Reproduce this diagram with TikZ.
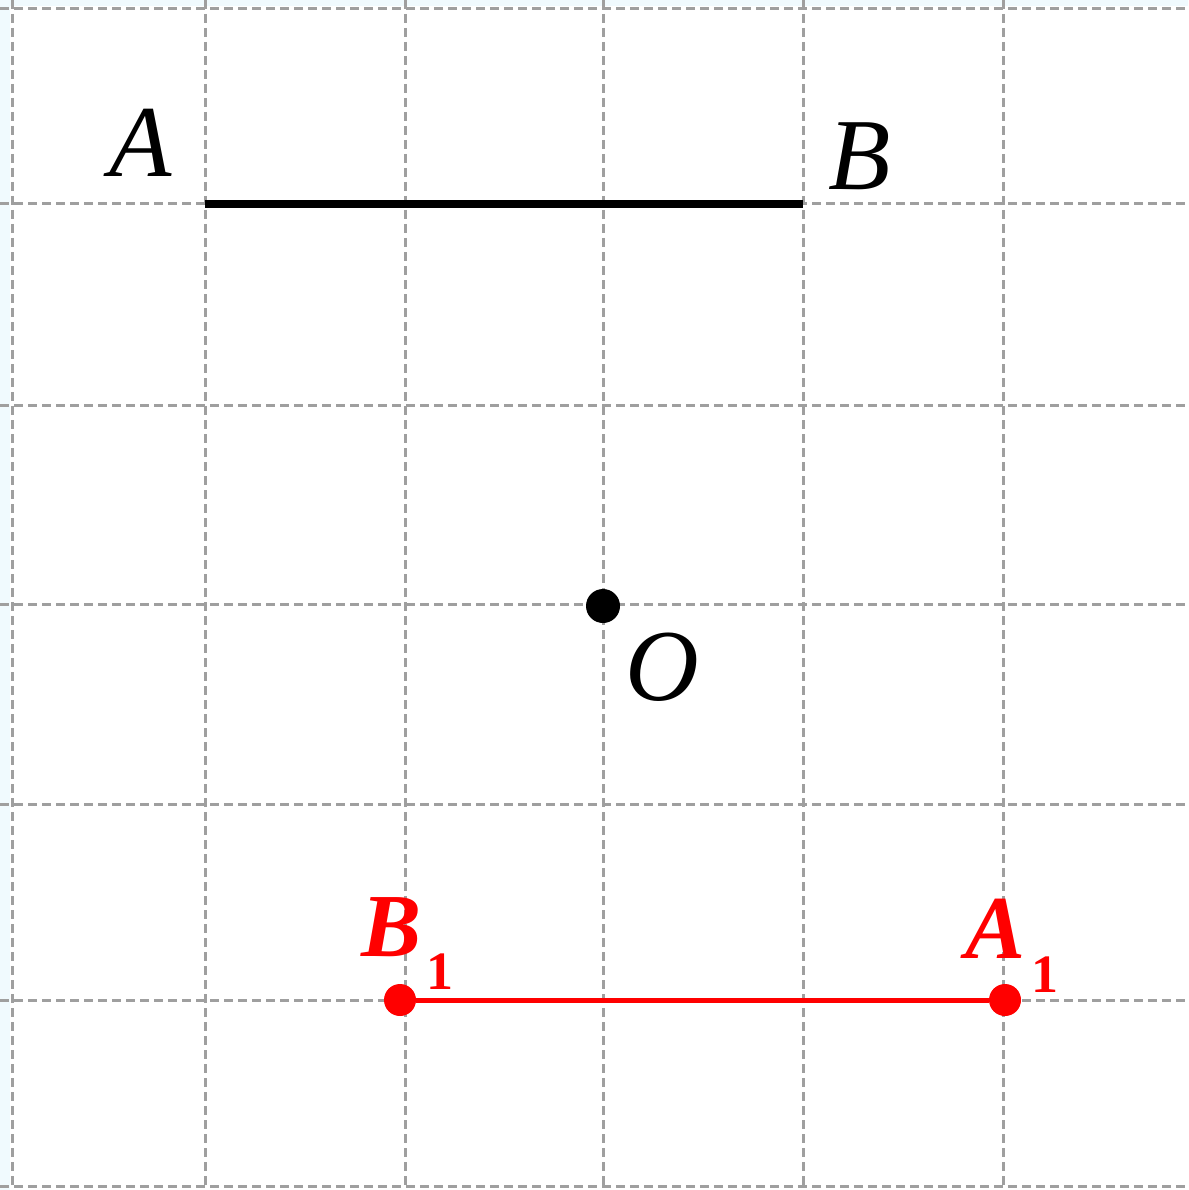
\documentclass[tikz,border=0pt]{standalone}
\usepackage{fontspec}
\setmainfont{Liberation Serif}
\begin{document}
\begin{tikzpicture}[x=1pt,y=-1pt,
  gridline/.style={draw=gray!75, line width=3pt, dash pattern=on 9pt off 5pt},
  blacklbl/.style={font=\fontsize{102}{102}\selectfont\itshape, text=black, inner sep=0pt},
  redlbl/.style={font=\fontsize{90}{90}\selectfont\bfseries\itshape, text=red, inner sep=0pt},
  redsub/.style={font=\fontsize{54}{54}\selectfont\bfseries, text=red, inner sep=0pt},
  reddot/.style={circle, fill=red, minimum size=32pt, inner sep=0pt},
  blackdot/.style={circle, fill=black, minimum size=34pt, inner sep=0pt}]
\useasboundingbox (0,0) rectangle (1188,1190);
\fill[cyan!6] (0,0) rectangle (1188,1190);
\fill[white] (10,6) rectangle (1188,1190);
% grid
\foreach \x in {12,205,405,603,803,1003}
  \draw[gridline] (\x,0) -- (\x,1190);
\foreach \y in {9,204,405,604,804,1000,1186}
  \draw[gridline] (0,\y) -- (1188,\y);
% points
\coordinate (A) at (205,204);
\coordinate (B) at (803,204);
\node[blackdot] (O) at (603,606) {};
\node[reddot] (B1) at (400,1000) {};
\node[reddot] (A1) at (1005,1000) {};
% segments
\draw[line width=7.5pt, black] (A) -- (B);
\draw[line width=5pt, red] (B1) -- (A1);
% labels
\node[blacklbl] (lA) at (141,143) {A};
\node[blacklbl] (lB) at (860,156) {B};
\node[blacklbl] (lO) at (662,667) {O};
\node[redlbl] (lB1) at (392,927) {B};
\node[redsub] (sB1) at (440,972) {1};
\node[redlbl] (lA1) at (995,929) {A};
\node[redsub] (sA1) at (1045,975) {1};
\end{tikzpicture}
\end{document}
